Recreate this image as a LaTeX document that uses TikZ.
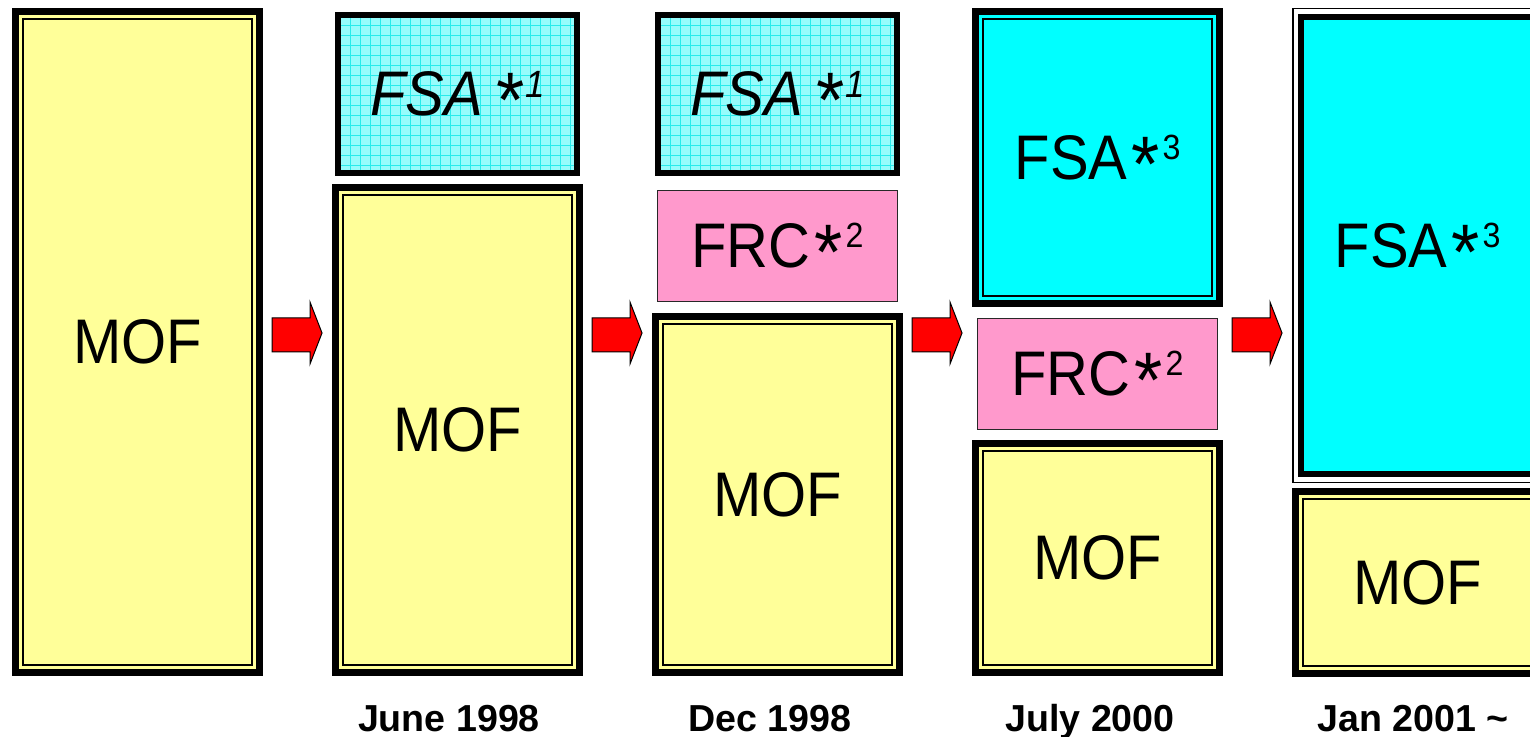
\documentclass[tikz,border=0pt]{standalone}
\usepackage{graphicx}
\usepackage{fontspec}
\setmainfont{Liberation Sans}[FakeStretch=0.92]
\newfontfamily\lblfont{Liberation Sans}
\definecolor{mofyellow}{RGB}{255,255,153}
\definecolor{fsacyan}{RGB}{0,255,255}
\definecolor{fsalight}{RGB}{150,252,252}
\definecolor{fsagrid}{RGB}{40,235,235}
\definecolor{frcpink}{RGB}{255,153,204}
\definecolor{arrowred}{RGB}{255,0,0}
\newcommand\bigast{\raisebox{-0.19em}[0.7em][0pt]{\scalebox{1.25}{*}}}
\newcommand\bigsup[1]{\hspace{1.5pt}\raisebox{10pt}{\fontsize{17.5pt}{18pt}\selectfont #1}}
\newcommand\italsup[1]{\hspace{2pt}\raisebox{8.9pt}{\fontsize{19pt}{20pt}\selectfont #1}}
\begin{document}
\begin{tikzpicture}[x=0.5pt,y=-0.5pt,
  bigtext/.style={font=\fontsize{31.5pt}{36pt}\selectfont, text=black},
  innerline/.style={path picture={\draw[line width=1pt,black]
     ([shift={(3.75pt,-3.75pt)}]path picture bounding box.north west) rectangle
     ([shift={(-3.75pt,3.75pt)}]path picture bounding box.south east);}},
  dblbox/.style={draw=black, line width=3.5pt, inner sep=0pt, innerline, bigtext},
  mofbox/.style={dblbox, fill=mofyellow, minimum width=122pt},
  fsathree/.style={dblbox, fill=fsacyan, minimum width=122pt},
  fsaone/.style={draw=black, line width=3pt, inner sep=0pt, fill=fsalight, bigtext,
     minimum width=119.5pt, minimum height=79pt,
     path picture={\draw[fsagrid, line width=0.4pt, step=5pt]
       (path picture bounding box.south west) grid (path picture bounding box.north east);}},
  frcbox/.style={draw={rgb,255:red,40;green,40;blue,40}, line width=0.5pt, inner sep=0pt,
     fill=frcpink, bigtext, minimum width=120pt, minimum height=55.5pt},
  fsaoutline/.style={draw=black, line width=0.75pt, fill=white, inner sep=0pt, bigtext,
     path picture={\draw[line width=3pt,black,fill=fsacyan]
     ([shift={(4pt,-4pt)}]path picture bounding box.north west) rectangle
     ([shift={(-4pt,4pt)}]path picture bounding box.south east);}},
  datelabel/.style={font=\lblfont\bfseries\fontsize{18.8pt}{20pt}\selectfont, anchor=base, inner sep=0pt},
  blockarrow/.style={draw=black, line width=0.5pt, fill=arrowred, line join=miter}
]
\clip (0,0) rectangle (1530,737);
\fill[white] (0,0) rectangle (1530,737);

% column 1
\node[mofbox, minimum height=330.5pt] (m1) at (137.5,342) {MOF};

% column 2
\node[fsaone] (f2) at (457.5,94) {\itshape FSA\hspace{5pt}\bigast\italsup{1}};
\node[mofbox, minimum height=242.5pt] (m2) at (457.5,430) {MOF};

% column 3
\node[fsaone] (f3) at (777.5,94) {\itshape FSA\hspace{5pt}\bigast\italsup{1}};
\node[frcbox] (r3) at (777.5,246) {FRC\hspace{2pt}\bigast\bigsup{2}};
\node[mofbox, minimum height=178pt] (m3) at (777.5,494.5) {MOF};

% column 4
\node[fsathree, minimum height=146pt] (f4) at (1097.5,157.5) {FSA\hspace{2pt}\bigast\bigsup{3}};
\node[frcbox] (r4) at (1097.5,374) {FRC\hspace{2pt}\bigast\bigsup{2}};
\node[mofbox, minimum height=114.5pt] (m4) at (1097.5,558) {MOF};

% column 5
\node[fsaoutline, minimum width=124.75pt, minimum height=236.75pt] (f5) at (1417.5,245.5) {FSA\hspace{2pt}\bigast\bigsup{3}};
\node[mofbox, minimum height=91pt] (m5) at (1417.5,582.5) {MOF};

% arrows
\foreach \i in {0,1,2,3}{
  \draw[blockarrow, xshift=\i*160pt]
    (272,318) -- (310,318) -- (310,302) -- (322,333) -- (310,364) -- (310,352) -- (272,352) -- cycle;
}

% date labels
\node[datelabel] (d2) at (449,731) {June 1998};
\node[datelabel] (d3) at (770,731) {Dec 1998};
\node[datelabel] (d4) at (1090,731) {July 2000};
\node[datelabel] (d5) at (1413,731) {Jan 2001 \char`~};
\end{tikzpicture}
\end{document}
